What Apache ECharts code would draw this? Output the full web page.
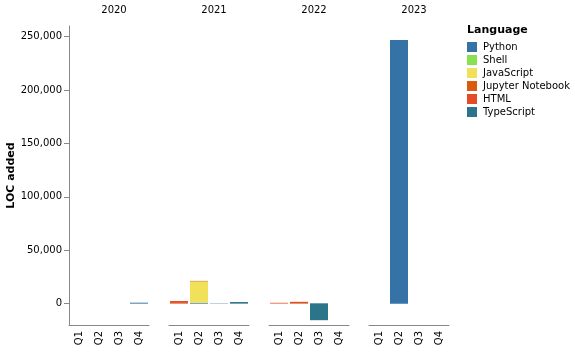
<!DOCTYPE html>
<html>
<head>
<meta charset="utf-8">
<script src="https://cdn.jsdelivr.net/npm/echarts@6/dist/echarts.min.js"></script>
<style>
  html, body { margin: 0; padding: 0; background: #fff; }
  #chart { width: 575px; height: 352px; }
</style>
</head>
<body>
<div id="chart"></div>
<script>
// data (order: 2020 Q1..Q4, 2021 Q1..Q4, ...)
const years = ["2020", "2021", "2022", "2023"];
const quarters = ["Q1", "Q2", "Q3", "Q4"];
const languages = ["Python", "Shell", "JavaScript", "Jupyter Notebook", "HTML", "TypeScript"];
const colors = ["#3572A5", "#89e051", "#f1e05a", "#DA5B0B", "#e34c26", "#2b7489"];

const python     = [0, 0, 0, 900,   0, 800, 300, 0,     0, 0, 500, 0,       0, 247000, 0, 0];
const shell      = [0, 0, 0, 0,     0, 0, 0, 0,         0, 0, 0, 0,         0, 0, 0, 0];
const javascript = [0, 0, 0, 0,     0, 20000, 0, 0,     0, 0, 0, 0,         0, 0, 0, 0];
const jupyter    = [0, 0, 0, 0,     700, 500, 0, 0,     300, 600, 0, 0,     0, 0, 0, 0];
const html       = [0, 0, 0, 0,     1800, 0, 0, 0,      500, 1100, 0, 0,    0, 0, 0, 0];
const typescript = [0, 0, 0, 0,     0, 0, 0, 1500,      0, 0, -15500, 0,    0, 0, 0, 0];

const seriesValues = [python, shell, javascript, jupyter, html, typescript];
const yTicks = [0, 50000, 100000, 150000, 200000, 250000];

const chart = echarts.init(document.getElementById("chart"));
const font = "DejaVu Sans, sans-serif";

const grids = [], xAxes = [], yAxes = [], titles = [], series = [];
years.forEach((yr, i) => {
  grids.push({ left: 69 + 100 * i, top: 26, width: 80, height: 299 });
  titles.push({
    text: yr, left: 109 + 100 * i, top: 0, textAlign: "center",
    textStyle: { fontSize: 10, fontWeight: "normal", color: "#000", fontFamily: font }
  });
  xAxes.push({
    type: "category", gridIndex: i, data: quarters,
    axisLine: { onZero: false, lineStyle: { color: "#888" } },
    axisTick: { alignWithLabel: true, length: 5, lineStyle: { color: "#888" } },
    axisLabel: { rotate: 90, fontSize: 10, color: "#000", fontFamily: font, margin: 6 }
  });
  yAxes.push({
    type: "value", gridIndex: i, min: -20000, max: 260000,
    show: i === 0,
    name: i === 0 ? "LOC added" : "",
    nameLocation: "middle", nameGap: 51,
    nameTextStyle: { fontSize: 11, fontWeight: "bold", color: "#000", fontFamily: font },
    splitLine: { show: false },
    axisLine: { show: true, lineStyle: { color: "#888" } },
    axisTick: { show: true, length: 5, customValues: yTicks, lineStyle: { color: "#888" } },
    axisLabel: {
      customValues: yTicks, fontSize: 10, color: "#000", fontFamily: font, margin: 7,
      formatter: v => v.toLocaleString("en-US")
    }
  });
  languages.forEach((lang, k) => {
    series.push({
      name: lang, type: "bar", stack: "y" + yr,
      xAxisIndex: i, yAxisIndex: i,
      barCategoryGap: "10%",
      itemStyle: { color: colors[k] },
      data: seriesValues[k].slice(4 * i, 4 * i + 4)
    });
  });
});

titles.push({
  text: "Language", left: 462, top: 20,
  textStyle: { fontSize: 11, fontWeight: "bold", color: "#000", fontFamily: font }
});

chart.setOption({
  animation: false,
  title: titles,
  grid: grids,
  xAxis: xAxes,
  yAxis: yAxes,
  legend: {
    data: languages, orient: "vertical", left: 462, top: 37,
    icon: "rect", itemWidth: 10, itemHeight: 10, itemGap: 3,
    textStyle: { fontSize: 10, color: "#000", fontFamily: font, padding: [0, 0, 0, 1] }
  },
  series: series
});
</script>
</body>
</html>
